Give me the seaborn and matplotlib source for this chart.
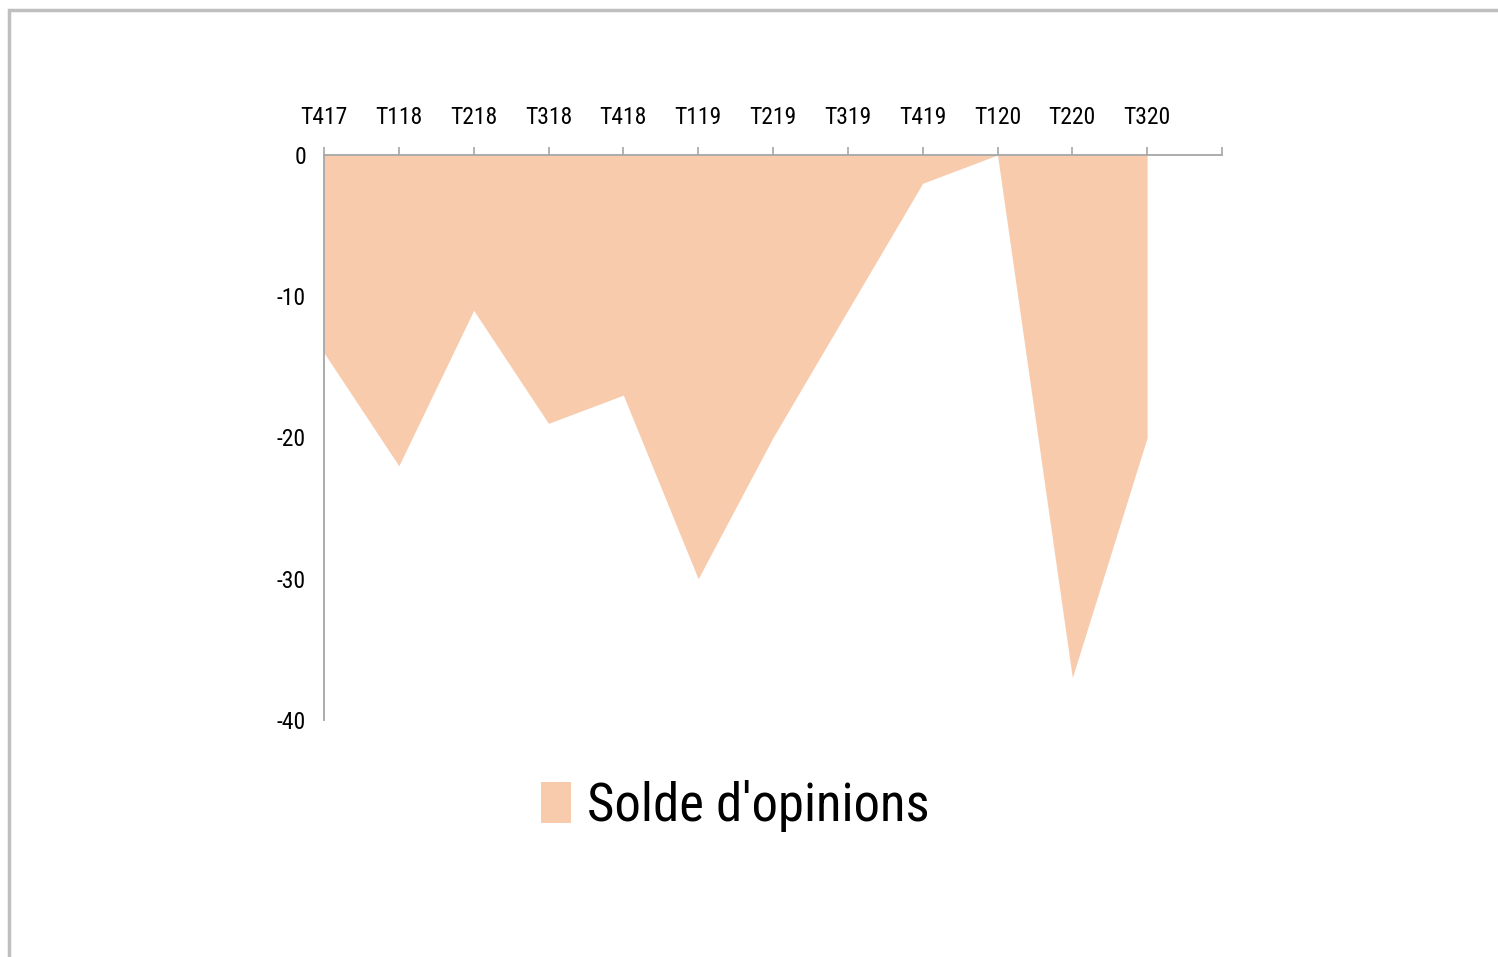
import matplotlib
matplotlib.use('Agg')
import matplotlib.pyplot as plt
from matplotlib.patches import Patch, Rectangle
import seaborn as sns
import pandas as pd
import warnings

warnings.filterwarnings('ignore')

# data
quarters = ['T417', 'T118', 'T218', 'T318', 'T418', 'T119',
            'T219', 'T319', 'T419', 'T120', 'T220', 'T320']
solde = [-14, -22, -11, -19, -17, -30, -20, -11, -2, 0, -37, -20]
y_ticks = [0, -10, -20, -30, -40]

fill_color = '#F8CBAD'
axis_color = '#A6A6A6'

sns.set_style('white')
plt.rcParams['font.family'] = ['Roboto Condensed', 'Liberation Sans Narrow',
                               'Liberation Sans', 'DejaVu Sans']

df = pd.DataFrame({'pos': range(len(quarters)), 'Solde': solde})

fig = plt.figure(figsize=(14.98, 9.57), dpi=100)
ax = fig.add_axes([324 / 1498, 1 - 720 / 957, (1222 - 324) / 1498, (720 - 155) / 957])

# area under the line
sns.lineplot(data=df, x='pos', y='Solde', ax=ax, linewidth=0, color=fill_color)
ax.fill_between(df['pos'], 0, df['Solde'], color=fill_color, linewidth=0)

ax.set_xlim(0, len(quarters))
ax.set_ylim(-40, 0)

# x axis at zero, labels on top
ax.xaxis.tick_top()
ax.set_xticks(range(len(quarters) + 1))
ax.set_xticklabels(quarters + [''])
ax.tick_params(axis='x', direction='out', length=6, width=1.2, color=axis_color,
               labelsize=17, pad=13, labelcolor='black')
ax.set_yticks(y_ticks)
ax.set_yticklabels([str(v) for v in y_ticks])
ax.tick_params(axis='y', length=0, labelsize=17, pad=13, labelcolor='black')

for side in ['right', 'bottom']:
    ax.spines[side].set_visible(False)
for side in ['top', 'left']:
    ax.spines[side].set_color(axis_color)
    ax.spines[side].set_linewidth(1.3)
ax.set_xlabel('')
ax.set_ylabel('')

# legend
handle = Patch(facecolor=fill_color, edgecolor='none', label="Solde d'opinions")
leg = fig.legend(handles=[handle], loc='center', bbox_to_anchor=(735 / 1498, 1 - 806 / 957),
                 frameon=False, fontsize=38, handlelength=0.57, handleheight=0.8,
                 handletextpad=0.3)
for t in leg.get_texts():
    t.set_color('black')

# outer frame
fig.patches.append(Rectangle((8.5 / 1498, -0.05), 1.2, 1 - 9.5 / 957 + 0.05,
                             transform=fig.transFigure, fill=False,
                             edgecolor='#BFBFBF', linewidth=2.5))

fig.savefig('out.png', dpi=100)
